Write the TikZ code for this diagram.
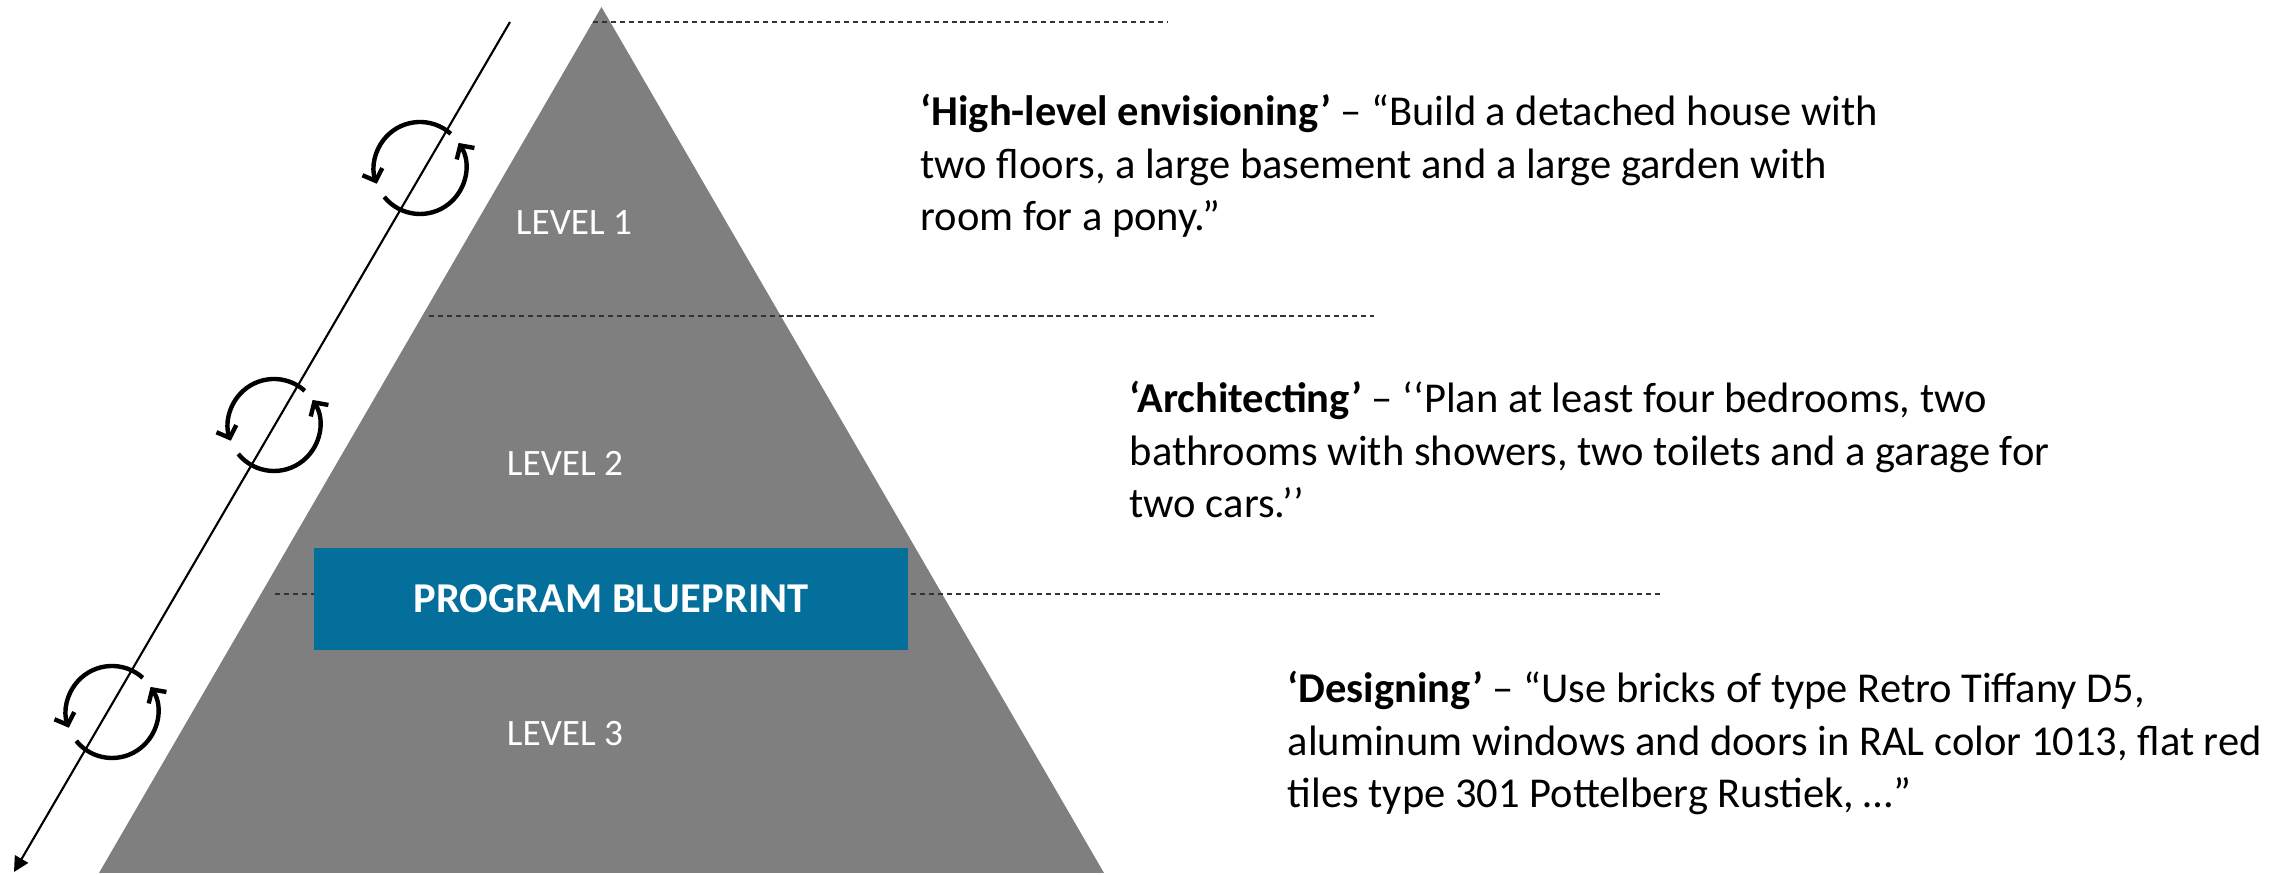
\documentclass[tikz,border=0pt]{standalone}
\usepackage{fontspec}
\setmainfont{Carlito}
\usetikzlibrary{arrows.meta}
\definecolor{pyrgray}{RGB}{127,127,127}
\definecolor{blueprint}{RGB}{4,111,154}

\begin{document}
\begin{tikzpicture}[
    levtext/.style={text=white, inner sep=0pt, font=\fontsize{10.6}{12}\selectfont},
    quotetext/.style={anchor=base west, align=left, inner sep=0pt, font=\fontsize{12.1}{14.95}\selectfont},
    guide/.style={line width=0.55pt, black!80, dash pattern=on 1.45pt off 1.1pt},
    roundarrow/.style={line width=1.25pt, -{Straight Barb[length=2.8pt,width=6pt]}}]
    \useasboundingbox (0,0) rectangle (22.92,8.75);
    % pyramid
    \coordinate (apex) at (6.015,8.68);
    \coordinate (baseleft) at (0.99,0.02);
    \coordinate (baseright) at (11.04,0.02);
    \fill[pyrgray] (apex)--(baseleft)--(baseright)--cycle;
    % level borders
    \foreach \xa/\xb/\y in {5.93/11.67/8.53, 4.29/13.74/5.59, 2.75/16.63/2.81}
        {
            \draw[guide] (\xa,\y)--(\xb,\y);
        }
    \node[fill=blueprint, minimum width=5.94cm, minimum height=1.02cm, inner sep=0pt,
          text=white, font=\bfseries\fontsize{12.1}{14}\selectfont] (blueprint) at (6.11,2.76) {PROGRAM BLUEPRINT};
    \node[levtext] (level1) at (5.74,6.52) {LEVEL 1};
    \node[levtext] (level2) at (5.65,4.12) {LEVEL 2};
    \node[levtext] (level3) at (5.65,1.41) {LEVEL 3};
    % iteration axis
    \coordinate (axistop) at (5.10,8.53);
    \coordinate (axisend) at (0.14,0.03);
    \draw[line width=0.6pt, -{Triangle[length=4.3pt,width=4.3pt]}] (axistop)--(axisend);
    \foreach \cx/\cy in {4.20/7.07, 2.74/4.50, 1.12/1.63}
        {
            \draw[roundarrow] (\cx,\cy) ++(48:0.46) arc[start angle=48, end angle=200, radius=0.46];
            \draw[roundarrow] (\cx,\cy) ++(219:0.46) arc[start angle=219, end angle=393, radius=0.46];
        }
    % examples (anchored at the baseline of the last line)
    \node[quotetext] (envisioning) at (9.20,6.44) {\textbf{‘High-level envisioning’} – “Build a detached house with\\two floors, a large basement and a large garden with\\room for a pony.”};
    \node[quotetext] (architecting) at (11.29,3.57) {\textbf{‘Architecting’} – ‘‘Plan at least four bedrooms, two\\bathrooms with showers, two toilets and a garage for\\two cars.’’};
    \node[quotetext] (designing) at (12.87,0.67) {\textbf{‘Designing’} – “Use bricks of type Retro Tiffany D5,\\aluminum windows and doors in RAL color 1013, flat red\\tiles type 301 Pottelberg Rustiek, …”};
\end{tikzpicture}
\end{document}
